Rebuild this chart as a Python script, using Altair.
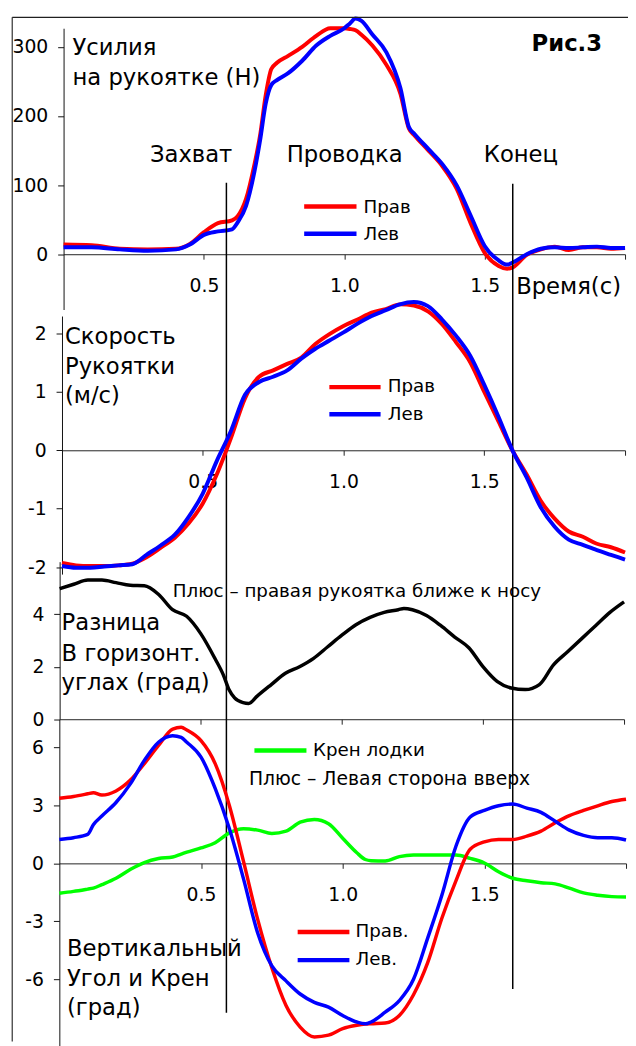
import altair as alt
import pandas as pd

FONT = "DejaVu Sans"

# ---------------- data ----------------
# Panel 1: handle force (N)
t_force = [0, 0.1, 0.2, 0.3, 0.4, 0.45, 0.5, 0.55, 0.6, 0.62, 0.65, 0.68, 0.7, 0.72, 0.74,
           0.76, 0.8, 0.85, 0.9, 0.95, 1.0, 1.02, 1.04, 1.06, 1.1, 1.15, 1.2, 1.23, 1.25,
           1.3, 1.35, 1.4, 1.45, 1.5, 1.55, 1.58, 1.6, 1.65, 1.7, 1.75, 1.8, 1.85, 1.9, 1.95, 2.0]
force_right = [14, 13, 8, 7, 8, 15, 32, 45, 49, 55, 80, 130, 172, 230, 268,
               277, 287, 300, 316, 327, 327, 326, 324, 318, 302, 274, 232, 182, 172,
               150, 127, 95, 45, 2, -17, -21, -19, -1, 7, 11, 6, 10, 10, 8, 9]
force_left = [10, 10, 7, 5, 7, 14, 28, 33, 36, 46, 70, 120, 165, 218, 245,
              252, 262, 280, 302, 316, 327, 334, 341, 338, 318, 292, 240, 184, 174,
              152, 130, 100, 56, 12, -9, -15, -12, 0, 8, 10, 9, 10, 11, 9, 9]

# Panel 2: handle speed (m/s)
t_speed = [0, 0.05, 0.1, 0.15, 0.2, 0.25, 0.3, 0.35, 0.4, 0.45, 0.5, 0.55, 0.6, 0.65, 0.7,
           0.75, 0.8, 0.85, 0.9, 0.95, 1.0, 1.05, 1.1, 1.15, 1.2, 1.25, 1.3, 1.35, 1.4,
           1.45, 1.5, 1.55, 1.6, 1.65, 1.7, 1.75, 1.8, 1.85, 1.9, 1.95, 2.0]
speed_right = [-1.93, -1.97, -1.98, -1.98, -1.97, -1.94, -1.83, -1.67, -1.5, -1.25, -0.91,
               -0.41, 0.21, 0.89, 1.26, 1.37, 1.48, 1.59, 1.82, 1.99, 2.13, 2.24, 2.36,
               2.42, 2.5, 2.48, 2.38, 2.16, 1.85, 1.51, 1.0, 0.5, 0.0, -0.41, -0.86,
               -1.17, -1.39, -1.48, -1.6, -1.66, -1.75]
speed_left = [-1.98, -2.01, -2.01, -1.99, -1.97, -1.95, -1.79, -1.63, -1.45, -1.14, -0.74,
              -0.18, 0.33, 0.95, 1.17, 1.26, 1.37, 1.57, 1.74, 1.88, 2.02, 2.17, 2.3,
              2.4, 2.5, 2.54, 2.47, 2.24, 1.96, 1.62, 1.12, 0.58, 0.0, -0.46, -0.97,
              -1.31, -1.53, -1.62, -1.71, -1.79, -1.87]

# Panel 3: difference of horizontal angles (deg)
t_diff = [0, 0.05, 0.1, 0.15, 0.2, 0.25, 0.3, 0.35, 0.4, 0.45, 0.5, 0.55, 0.58, 0.6, 0.62,
          0.65, 0.67, 0.7, 0.75, 0.8, 0.85, 0.9, 0.95, 1.0, 1.05, 1.1, 1.15, 1.2, 1.22,
          1.25, 1.3, 1.35, 1.4, 1.45, 1.5, 1.55, 1.6, 1.65, 1.7, 1.75, 1.8, 1.85, 1.9, 1.95, 2.0]
angle_diff = [4.97, 5.14, 5.3, 5.3, 5.2, 5.1, 5.08, 4.76, 4.17, 3.92, 3.26, 2.32, 1.69, 1.13,
              0.81, 0.63, 0.6, 0.88, 1.32, 1.75, 2.0, 2.32, 2.76, 3.2, 3.6, 3.88, 4.07, 4.17,
              4.22, 4.17, 3.95, 3.57, 3.13, 2.72, 2.0, 1.44, 1.19, 1.13, 1.32, 2.07, 2.57,
              3.07, 3.57, 4.07, 4.47]

# Panel 4: vertical angles and boat roll (deg)
t_vert = [0, 0.05, 0.1, 0.12, 0.15, 0.2, 0.25, 0.3, 0.35, 0.4, 0.43, 0.45, 0.5, 0.55, 0.6,
          0.65, 0.7, 0.75, 0.8, 0.85, 0.9, 0.95, 1.0, 1.05, 1.08, 1.1, 1.15, 1.2, 1.25,
          1.3, 1.35, 1.4, 1.45, 1.5, 1.55, 1.6, 1.65, 1.7, 1.75, 1.8, 1.85, 1.9, 1.95, 2.0]
vert_right = [3.37, 3.46, 3.6, 3.66, 3.54, 3.75, 4.3, 5.16, 6.1, 6.95, 7.04, 6.9, 6.35, 5.16,
              3.0, 0.1, -2.9, -5.4, -7.35, -8.47, -8.98, -8.89, -8.55, -8.38, -8.32, -8.3,
              -8.26, -7.87, -6.8, -5.14, -2.84, -0.89, 0.73, 1.11, 1.24, 1.24, 1.41, 1.67,
              2.1, 2.47, 2.74, 2.98, 3.2, 3.32]
vert_left = [1.24, 1.33, 1.5, 2.0, 2.45, 3.15, 4.1, 5.33, 6.27, 6.61, 6.52, 6.27, 5.5, 3.88,
             1.8, -0.8, -3.6, -5.3, -6.08, -6.76, -7.19, -7.44, -7.87, -8.21, -8.3, -8.21,
             -7.7, -7.1, -6.0, -3.87, -1.65, 0.9, 2.4, 2.74, 2.98, 3.07, 2.86, 2.64, 2.18,
             1.72, 1.45, 1.33, 1.33, 1.21]
boat_roll = [-1.55, -1.45, -1.33, -1.28, -1.1, -0.77, -0.32, 0.04, 0.25, 0.33, 0.48, 0.58,
             0.8, 1.07, 1.58, 1.79, 1.72, 1.55, 1.67, 2.13, 2.27, 2.05, 1.3, 0.55, 0.2, 0.14,
             0.12, 0.35, 0.43, 0.43, 0.43, 0.43, 0.26, 0.02, -0.43, -0.77, -0.9, -1.0, -1.06,
             -1.28, -1.53, -1.65, -1.72, -1.74]

phase_times = [0.58, 1.60]
x_ticks = [0.5, 1.0, 1.5, 2.0]
force_ticks = [0, 100, 200, 300]
speed_ticks = [-2, -1, 0, 1, 2]
diff_ticks = [0, 2, 4]
vert_ticks = [-6, -3, 0, 3, 6]

RED, BLUE, GREEN, BLACK = "#ff0000", "#0000ff", "#00ff00", "#000000"

# ---------------- layout (svg px) ----------------
W, H = 628, 1040


def xscale(r0, r1):
    return alt.Scale(domain=[0, 2], range=[r0, r1], nice=False, zero=False)


def yscale(d0, d1, r0, r1):
    return alt.Scale(domain=[d0, d1], range=[r0, r1], nice=False, zero=False)


def xaxis(zero_px, labels=True):
    expr = "datum.value < 1.99 ? format(datum.value, '.1f') : ''" if labels else "''"
    return alt.Axis(orient="bottom", offset=zero_px - H, values=x_ticks, labelExpr=expr,
                    title=None, grid=False, tickSize=5, labelPadding=18, labelFlush=False,
                    labelOverlap=False, domainColor="#222222", tickColor="#222222")


def yaxis(x0, ticks):
    return alt.Axis(orient="left", offset=-x0, values=ticks, title=None, grid=False,
                    tickSize=6, labelPadding=10, labelOverlap=False,
                    labelExpr="datum.value < 0 ? '-' + abs(datum.value) : '' + datum.value",
                    domainColor="#111111", tickColor="#111111")


def line(t, v, color, width, xs, xa, ys, ya):
    df = pd.DataFrame({"t": t, "v": v})
    return alt.Chart(df).mark_line(color=color, strokeWidth=width, interpolate="monotone").encode(
        x=alt.X("t:Q", scale=xs, axis=xa),
        y=alt.Y("v:Q", scale=ys, axis=ya),
    )


def txt(s, x, y, size=23, align="left", weight="normal"):
    return alt.Chart(pd.DataFrame({"label": [s]})).mark_text(
        align=align, baseline="alphabetic", fontSize=size, font=FONT,
        fontWeight=weight, color="black"
    ).encode(x=alt.value(x), y=alt.value(y), text="label:N")


def leg(color, x0, x1, y, width=4.5):
    return alt.Chart(pd.DataFrame({"c": [color]})).mark_rule(
        color=color, strokeWidth=width
    ).encode(x=alt.value(x0), x2=alt.value(x1), y=alt.value(y))


# Panel 1
xs1, xa1 = xscale(56.3, 625), xaxis(242.7)
ys1, ya1 = yscale(-80, 327, 298.7, 13.8), yaxis(56.3, force_ticks)
phase_df = pd.DataFrame({"t": phase_times})
catch_rule = alt.Chart(phase_df.iloc[[0]]).mark_rule(color=BLACK, strokeWidth=1.5).encode(
    x=alt.X("t:Q", scale=xs1, axis=xa1), y=alt.value(170.3), y2=alt.value(1011))
finish_rule = alt.Chart(phase_df.iloc[[1]]).mark_rule(color=BLACK, strokeWidth=1.5).encode(
    x=alt.X("t:Q", scale=xs1, axis=xa1), y=alt.value(171.3), y2=alt.value(987))
p1 = alt.layer(
    line(t_force, force_right, RED, 4, xs1, xa1, ys1, ya1),
    line(t_force, force_left, BLUE, 4, xs1, xa1, ys1, ya1),
    catch_rule, finish_rule,
)

# Panel 2
xs2, xa2 = xscale(54.7, 625), xaxis(441.3)
ys2, ya2 = yscale(-2.12, 2.3, 566.7, 305.3), yaxis(54.7, speed_ticks)
p2 = alt.layer(
    line(t_speed, speed_right, RED, 4, xs2, xa2, ys2, ya2),
    line(t_speed, speed_left, BLUE, 4, xs2, xa2, ys2, ya2),
)

# Panel 3
xs3, xa3 = xscale(52.3, 624), xaxis(713.7, labels=False)
ys3, ya3 = yscale(0, 6, 713.7, 554.1), yaxis(52.3, diff_ticks)
p3 = alt.layer(line(t_diff, angle_diff, BLACK, 3.5, xs3, xa3, ys3, ya3))

# Panel 4
xs4, xa4 = xscale(52, 626), xaxis(859.7)
ys4, ya4 = yscale(-9.6, 7.46, 1047.6, 713.7), yaxis(52, vert_ticks)
p4 = alt.layer(
    line(t_vert, boat_roll, GREEN, 3.5, xs4, xa4, ys4, ya4),
    line(t_vert, vert_right, RED, 3.5, xs4, xa4, ys4, ya4),
    line(t_vert, vert_left, BLUE, 3.5, xs4, xa4, ys4, ya4),
)

# Frame
frame = alt.layer(
    alt.Chart(pd.DataFrame({"a": [0]})).mark_rule(color="#404040", strokeWidth=1.3).encode(
        x=alt.value(4.3), y=alt.value(2.7), y2=alt.value(H)),
    alt.Chart(pd.DataFrame({"a": [0]})).mark_rule(color="#202020", strokeWidth=1.3).encode(
        x=alt.value(4.3), x2=alt.value(W), y=alt.value(2.7)),
)

annotations = [
    txt("Рис.3", 566, 37, size=23, align="center", weight="bold"),
    txt("Усилия", 65.3, 41),
    txt("на рукоятке (Н)", 65.3, 71.5),
    txt("Захват", 185.5, 149, align="center"),
    txt("Проводка", 341, 149, align="center"),
    txt("Конец", 519.5, 149, align="center"),
    txt("Время(с)", 514.7, 283),
    txt("Скорость", 57.7, 333.7),
    txt("Рукоятки", 57.7, 363.7),
    txt("(м/с)", 57.7, 393.7),
    txt("Разница", 54.3, 623.7),
    txt("В горизонт.", 54.3, 655),
    txt("углах (град)", 54.3, 684),
    txt("Плюс – правая рукоятка ближе к носу", 167, 590, size=18.5),
    txt("Вертикальный", 59.7, 953.7),
    txt("Угол и Крен", 59.7, 983.7),
    txt("(град)", 59.7, 1013),
    txt("Плюс – Левая сторона вверх", 244, 780, size=19),
    # legends
    leg(RED, 300, 353, 194.3), txt("Прав", 360, 201.3, size=18.5),
    leg(BLUE, 300, 353, 222), txt("Лев", 360, 228.5, size=18.5),
    leg(RED, 325.5, 377.4, 377.3), txt("Прав", 384.7, 382.7, size=18.5),
    leg(BLUE, 325.5, 377.4, 404.7), txt("Лев", 384.7, 410.7, size=18.5),
    leg(GREEN, 249.6, 302.3, 745.3), txt("Крен лодки", 309, 751, size=18.5),
    leg(RED, 293.4, 345.8, 929.3), txt("Прав.", 352, 934.3, size=18.5),
    leg(BLUE, 293.4, 345.8, 957.7), txt("Лев.", 352, 962.7, size=18.5),
]

chart = alt.layer(p1, p2, p3, p4, frame, *annotations).resolve_scale(
    x="independent", y="independent"
).properties(
    width=W, height=H, padding=0, autosize=alt.AutoSizeParams(type="none")
).configure_view(stroke=None).configure_axis(
    labelFont=FONT, labelFontSize=19, labelColor="black"
)

chart.save("out.html", embed_options={"renderer": "svg", "actions": False})
